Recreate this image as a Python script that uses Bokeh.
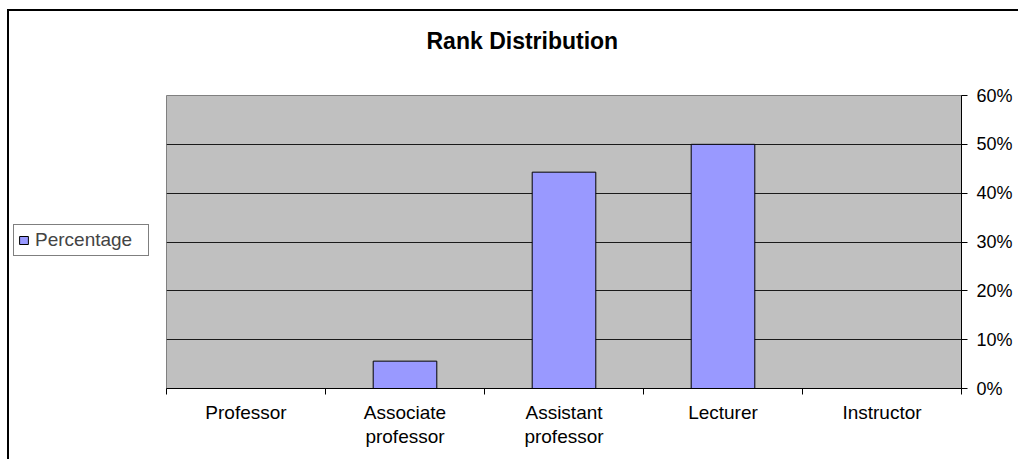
from bokeh.plotting import figure
from bokeh.layouts import row
from bokeh.models import Range1d, FixedTicker, NumeralTickFormatter, Legend, LegendItem
from bokeh.embed import file_html
from bokeh.resources import INLINE

categories = ["Professor", "Associate professor", "Assistant professor", "Lecturer", "Instructor"]
tick_labels = ["Professor", "Associate\nprofessor", "Assistant\nprofessor", "Lecturer", "Instructor"]
percentage = [0.0, 0.056, 0.443, 0.50, 0.0]
y_ticks = [0.0, 0.1, 0.2, 0.3, 0.4, 0.5, 0.6]
title_text = "Rank Distribution"
series_name = "Percentage"

FONT = "Liberation Sans"
BAR_FILL = "#9999FF"
W, H = 1018, 459
LEG_W = 166
n = len(categories)
centers = [i + 0.5 for i in range(n)]
bounds = list(range(n + 1))

# ---- main chart ----
# the trailing empty line reserves space so the title sits higher above the plot area
p = figure(width=W - LEG_W, height=H, output_backend="svg", toolbar_location=None,
           x_range=Range1d(0, n), y_range=Range1d(y_ticks[0], y_ticks[-1]),
           x_axis_location="below", y_axis_location="right",
           min_border_left=0, min_border_right=57, min_border_top=95,
           min_border_bottom=71, title=title_text + "\n")
p.border_fill_alpha = 0
p.background_fill_color = "#C0C0C0"
p.outline_line_color = "#808080"
p.outline_line_width = 1

p.title.text_font = FONT
p.title.text_font_size = "23px"
p.title.text_font_style = "bold"
p.title.text_color = "black"
p.title.align = "left"
p.title.offset = 260
p.title.vertical_align = "top"
p.title.standoff = 28

r = p.vbar(x=centers, top=percentage, bottom=0, width=0.4,
           fill_color=BAR_FILL, line_color="black", line_width=1)

xa = p.xaxis[0]
xa.ticker = FixedTicker(ticks=centers, minor_ticks=bounds)
xa.major_label_overrides = {c: t for c, t in zip(centers, tick_labels)}
xa.major_tick_line_color = None
xa.major_tick_in = 0
xa.major_tick_out = 0
xa.minor_tick_in = 0
xa.minor_tick_out = 6
xa.minor_tick_line_color = "black"
xa.axis_line_color = "black"
xa.major_label_text_font = FONT
xa.major_label_text_font_size = "19px"
xa.major_label_text_color = "black"
xa.major_label_text_line_height = 1.15
xa.major_label_standoff = 7

ya = p.yaxis[0]
ya.ticker = FixedTicker(ticks=y_ticks, minor_ticks=[])
ya.formatter = NumeralTickFormatter(format="0%")
ya.major_tick_in = 0
ya.major_tick_out = 6
ya.major_tick_line_color = "black"
ya.axis_line_color = "black"
ya.major_label_text_font = FONT
ya.major_label_text_font_size = "18px"
ya.major_label_text_color = "black"
ya.major_label_standoff = 9

p.xgrid.visible = False
p.ygrid.grid_line_color = "#1a1a1a"
p.ygrid.grid_line_width = 1

# ---- legend strip on the left (series glyph kept outside its visible range) ----
lf = figure(width=LEG_W, height=H, output_backend="svg", toolbar_location=None,
            x_range=Range1d(-3, -2), y_range=Range1d(y_ticks[0], y_ticks[-1]),
            x_axis_location=None, y_axis_location=None,
            min_border_left=0, min_border_right=0, min_border_top=0,
            min_border_bottom=0)
lf.xgrid.visible = False
lf.ygrid.visible = False
lf.outline_line_color = None
lf.background_fill_alpha = 0
lf.border_fill_alpha = 0
lr = lf.vbar(x=centers, top=percentage, bottom=0, width=0.4,
             fill_color=BAR_FILL, line_color="black", line_width=1)

legend = Legend(items=[LegendItem(label=series_name, renderers=[lr])],
                location=(13, 132), margin=0, padding=4,
                glyph_width=11, glyph_height=10, label_height=20,
                label_width=109, label_standoff=6,
                label_text_font=FONT, label_text_font_size="19px",
                border_line_color="black", border_line_width=1,
                background_fill_color="white", background_fill_alpha=1)
lf.add_layout(legend, "center")

layout = row(lf, p, spacing=0)
# outer chart border (left & top)
layout.styles = {"background": "linear-gradient(#000,#000) 7px 9px / 2px 100% no-repeat, "
                               "linear-gradient(#000,#000) 7px 9px / 100% 2px no-repeat, #fff"}

open("out.html", "w").write(file_html(layout, INLINE))
